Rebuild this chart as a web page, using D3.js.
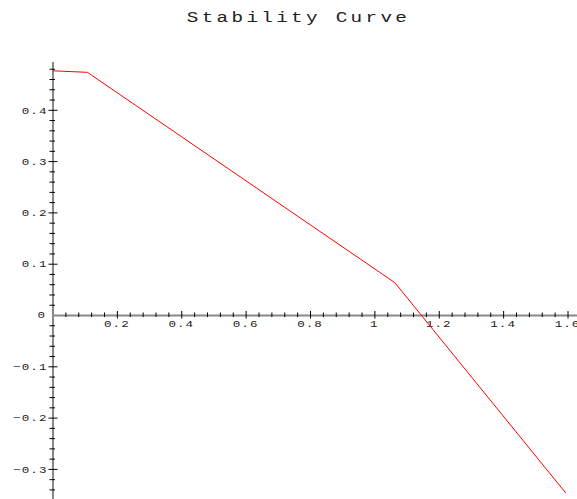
<!DOCTYPE html>
<html><head><meta charset="utf-8">
<script src="https://cdn.jsdelivr.net/npm/d3@7"></script>
<style>
html,body{margin:0;padding:0;background:#fff;}
svg{display:block;}
text{font-family:"Liberation Mono","DejaVu Sans Mono",monospace;fill:#222;}
</style></head>
<body>
<svg id="chart" width="577" height="499"></svg>
<script>
const title = "Stability Curve";
const xs = [0, 0.107, 1.062, 1.593];
const ys = [0.477, 0.474, 0.064, -0.346];
const xMajor = [0.2, 0.4, 0.6, 0.8, 1, 1.2, 1.4, 1.6];
const xLabels = ["0.2", "0.4", "0.6", "0.8", "1", "1.2", "1.4", "1.6"];
const yMajor = [-0.3, -0.2, -0.1, 0.1, 0.2, 0.3, 0.4];
const yLabels = ["-0.3", "-0.2", "-0.1", "0.1", "0.2", "0.3", "0.4"];

const svg = d3.select("#chart");
const x = d3.scaleLinear().domain([0, 1.6]).range([53, 568]);
const y = d3.scaleLinear().domain([0, 0.4]).range([315.5, 110.3]);
const yTop = 0.494;

// title (horizontally stretched monospace, like the reference)
svg.append("text")
  .attr("transform", "translate(298.5,21.5) scale(1.33,1)")
  .attr("text-anchor", "middle")
  .style("font-size", "14.5px").style("letter-spacing", "2.5px").style("fill", "#222")
  .text(title);

const xMinor = d3.range(0.04, 1.65, 0.04).filter(v => Math.abs(v / 0.2 - Math.round(v / 0.2)) > 0.01);
const yMinor = d3.range(-0.36, 0.495, 0.02).filter(v => Math.abs(v / 0.1 - Math.round(v / 0.1)) > 0.01);

const g = svg.append("g");
g.append("line").attr("x1", x(0)).attr("x2", 577).attr("y1", y(0)).attr("y2", y(0))
  .attr("stroke", "#888").attr("stroke-width", 2);
g.append("line").attr("x1", x(0)).attr("x2", x(0)).attr("y1", y(yTop)).attr("y2", 499)
  .attr("stroke", "#888").attr("stroke-width", 2);

g.selectAll(".xmin").data(xMinor).join("line")
  .attr("x1", d => x(d)).attr("x2", d => x(d)).attr("y1", y(0) - 3).attr("y2", y(0) + 1.5)
  .attr("stroke", "#000").attr("stroke-width", 1);
g.selectAll(".xmaj").data(xMajor).join("line")
  .attr("x1", d => x(d)).attr("x2", d => x(d)).attr("y1", y(0) - 4.5).attr("y2", y(0) + 3)
  .attr("stroke", "#000").attr("stroke-width", 1);
g.selectAll(".ymin").data(yMinor).join("line")
  .attr("x1", x(0) - 3.5).attr("x2", x(0) + 2).attr("y1", d => y(d)).attr("y2", d => y(d))
  .attr("stroke", "#000").attr("stroke-width", 1);
g.selectAll(".ymaj").data(yMajor).join("line")
  .attr("x1", x(0) - 4.5).attr("x2", x(0) + 4.5).attr("y1", d => y(d)).attr("y2", d => y(d))
  .attr("stroke", "#000").attr("stroke-width", 1);

const lblSize = "9.5px", lblSpace = "0.8px", sx = 1.32;
g.selectAll(".xl").data(xMajor).join("text")
  .attr("transform", d => `translate(${x(d) - 0.5},${y(0) + 11.3}) scale(${sx},1)`)
  .attr("text-anchor", "middle")
  .style("font-size", lblSize).style("letter-spacing", lblSpace)
  .text((d, i) => xLabels[i]);
g.selectAll(".yl").data(yMajor).join("text")
  .attr("transform", d => `translate(${x(0) - 5.5},${y(d) + 3.2}) scale(${sx},1)`)
  .attr("text-anchor", "end")
  .style("font-size", lblSize).style("letter-spacing", lblSpace)
  .text((d, i) => yLabels[i].replace("-", "\u2212"));
g.append("text")
  .attr("transform", `translate(${x(0) - 7},${y(0) + 2.8}) scale(${sx},1)`)
  .attr("text-anchor", "end")
  .style("font-size", lblSize).style("letter-spacing", lblSpace).text("0");

const pts = xs.map((v, i) => [v, ys[i]]);
svg.append("path").datum(pts)
  .attr("d", d3.line().x(d => x(d[0])).y(d => y(d[1])))
  .attr("fill", "none").attr("stroke", "#ff0000").attr("stroke-width", 1);
</script>
</body></html>
